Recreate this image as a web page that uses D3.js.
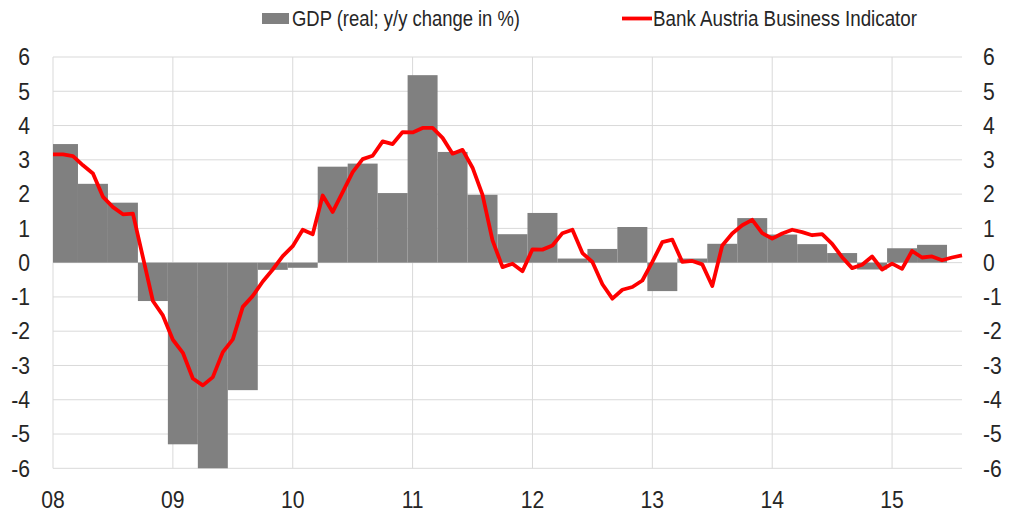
<!DOCTYPE html>
<html>
<head>
<meta charset="utf-8">
<script src="https://cdn.jsdelivr.net/npm/d3@7"></script>
<style>
  html, body { margin: 0; padding: 0; background: #ffffff; }
  svg { display: block; }
  text { font-family: "Liberation Sans", Arial, sans-serif; fill: #262626; }
</style>
</head>
<body>
<svg id="chart" width="1009" height="513"></svg>
<script>
// ---- Data ----
const yearLabels = ["08", "09", "10", "11", "12", "13", "14", "15"];
const yTicks = [-6, -5, -4, -3, -2, -1, 0, 1, 2, 3, 4, 5, 6];

// GDP (real; y/y change in %), quarterly from 2008Q1 to 2015Q2
const gdpQuarters = ["2008Q1","2008Q2","2008Q3","2008Q4","2009Q1","2009Q2","2009Q3","2009Q4",
  "2010Q1","2010Q2","2010Q3","2010Q4","2011Q1","2011Q2","2011Q3","2011Q4",
  "2012Q1","2012Q2","2012Q3","2012Q4","2013Q1","2013Q2","2013Q3","2013Q4",
  "2014Q1","2014Q2","2014Q3","2014Q4","2015Q1","2015Q2"];
const gdpValues = [3.46, 2.3, 1.75, -1.12, -5.3, -6.3, -3.72, -0.21,
  -0.15, 2.8, 2.89, 2.03, 5.47, 3.23, 1.98, 0.83,
  1.45, 0.12, 0.4, 1.04, -0.83, 0.12, 0.55, 1.3,
  0.82, 0.54, 0.28, -0.2, 0.42, 0.52];

// Bank Austria Business Indicator, monthly from Jan 2008 to Aug 2015
const baBiValues = [
  3.16, 3.16, 3.11, 2.84, 2.6, 1.92, 1.62, 1.41, 1.43, 0.16, -1.12, -1.54,
  -2.25, -2.63, -3.38, -3.58, -3.34, -2.61, -2.24, -1.29, -0.97, -0.55, -0.2, 0.19,
  0.48, 0.96, 0.83, 1.96, 1.48, 2.06, 2.64, 3.02, 3.12, 3.54, 3.46, 3.81,
  3.8, 3.93, 3.93, 3.64, 3.18, 3.29, 2.77, 1.98, 0.65, -0.13, -0.03, -0.25,
  0.39, 0.38, 0.5, 0.86, 0.96, 0.28, 0.02, -0.63, -1.05, -0.79, -0.71, -0.52,
  0.02, 0.6, 0.67, 0.02, 0.05, -0.05, -0.68, 0.5, 0.85, 1.09, 1.25, 0.86,
  0.7, 0.85, 0.96, 0.89, 0.8, 0.83, 0.55, 0.16, -0.16, -0.06, 0.18, -0.2,
  -0.03, -0.18, 0.34, 0.15, 0.18, 0.07, 0.15, 0.21
];

const legendLabels = ["GDP (real; y/y change in %)", "Bank Austria Business Indicator"];

// ---- Layout ----
const svg = d3.select("#chart");
const plotL = 53, plotR = 962, plotT = 57, plotB = 468.3;
const narrow = 0.92;

const x = d3.scaleLinear().domain([0, baBiValues.length - 1]).range([plotL, plotR]);
const y = d3.scaleLinear().domain([-6, 6]).range([plotB, plotT]);

svg.append("defs").append("clipPath").attr("id", "plotClip")
  .append("rect").attr("x", plotL).attr("y", plotT).attr("width", plotR - plotL).attr("height", plotB - plotT);

// Gridlines
const grid = svg.append("g");
grid.selectAll("line.h").data(yTicks).join("line").attr("class", "h")
  .attr("x1", plotL).attr("x2", plotR)
  .attr("y1", d => y(d)).attr("y2", d => y(d))
  .attr("stroke", "#d9d9d9").attr("stroke-width", 1);
grid.selectAll("line.v").data(yearLabels).join("line").attr("class", "v")
  .attr("x1", (d, i) => x(i * 12)).attr("x2", (d, i) => x(i * 12))
  .attr("y1", plotT).attr("y2", plotB)
  .attr("stroke", "#d9d9d9").attr("stroke-width", 1);

// Bars
svg.append("g").attr("clip-path", "url(#plotClip)")
  .selectAll("rect").data(gdpValues).join("rect")
  .attr("x", (d, i) => x(3 * i - 0.5))
  .attr("width", (d, i) => x(3 * i + 2.5) - x(3 * i - 0.5))
  .attr("y", d => Math.min(y(d), y(0)))
  .attr("height", d => Math.abs(y(d) - y(0)))
  .attr("fill", "#808080");

// Line
const line = d3.line().x((d, i) => x(i)).y(d => y(d));
svg.append("path").datum(baBiValues)
  .attr("d", line)
  .attr("fill", "none").attr("stroke", "#ff0000")
  .attr("stroke-width", 3.8).attr("stroke-linejoin", "round").attr("stroke-linecap", "butt");

// Axes labels
const fs = 23;
svg.append("g").selectAll("text").data(yTicks).join("text")
  .attr("transform", d => `translate(30,${y(d)}) scale(${narrow},1)`)
  .attr("dy", "0.36em")
  .attr("text-anchor", "end").attr("font-size", fs)
  .text(d => d);
svg.append("g").selectAll("text").data(yTicks).join("text")
  .attr("transform", d => `translate(983,${y(d)}) scale(${narrow},1)`)
  .attr("dy", "0.36em")
  .attr("text-anchor", "start").attr("font-size", fs)
  .text(d => d);
svg.append("g").selectAll("text").data(yearLabels).join("text")
  .attr("transform", (d, i) => `translate(${x(i * 12)},508) scale(${narrow},1)`)
  .attr("text-anchor", "middle").attr("font-size", fs)
  .text(d => d);

// Legend
const lg = svg.append("g");
lg.append("rect").attr("x", 262).attr("y", 13).attr("width", 27).attr("height", 11).attr("fill", "#808080");
lg.append("text").attr("x", 292).attr("y", 26).attr("font-size", 22)
  .attr("textLength", 228).attr("lengthAdjust", "spacingAndGlyphs").text(legendLabels[0]);
lg.append("line").attr("x1", 622).attr("x2", 652).attr("y1", 18.5).attr("y2", 18.5)
  .attr("stroke", "#ff0000").attr("stroke-width", 3.8);
lg.append("text").attr("x", 653).attr("y", 26).attr("font-size", 22)
  .attr("textLength", 264).attr("lengthAdjust", "spacingAndGlyphs").text(legendLabels[1]);
</script>
</body>
</html>
